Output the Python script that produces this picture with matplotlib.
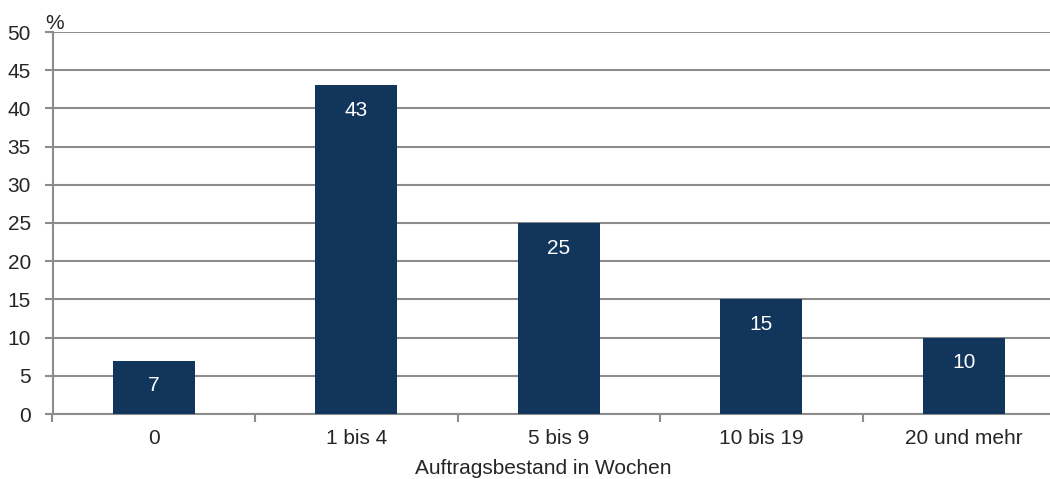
import matplotlib.pyplot as plt
import numpy as np

categories = ["0", "1 bis 4", "5 bis 9", "10 bis 19", "20 und mehr"]
values = [7, 43, 25, 15, 10]
yticks = [0, 5, 10, 15, 20, 25, 30, 35, 40, 45, 50]

bar_color = "#12365b"
grid_color = "#8c8c8c"
text_color = "#262626"
fs = 15

plt.rcParams['font.family'] = ['Liberation Sans', 'DejaVu Sans']

fig = plt.figure(figsize=(10.5, 4.79), dpi=100)
ax = fig.add_axes([52.5 / 1050, 1 - 414 / 479, 1 - 52.5 / 1050, (414 - 32) / 479])

x = np.arange(len(categories))
ax.bar(x, values, width=0.405, color=bar_color, zorder=3)
for xi, v in zip(x, values):
    ax.annotate(str(v), (xi, v), xytext=(0, -25), textcoords="offset pixels",
                ha="center", va="center", color="white", fontsize=fs, zorder=4)

ax.set_xlim(-0.5, -0.5 + 997.5 / 202.5)
ax.set_ylim(0, 50)
ax.set_yticks(yticks)
ax.yaxis.grid(True, color=grid_color, linewidth=1.5, zorder=0)

# category labels centred, tick marks on the boundaries
ax.set_xticks(x)
ax.set_xticklabels(categories)
ax.set_xticks(np.arange(len(categories)) - 0.5, minor=True)
ax.tick_params(axis="x", which="major", length=0, pad=11, labelsize=fs, labelcolor=text_color)
ax.tick_params(axis="x", which="minor", length=6, width=1.5, color=grid_color, direction="out")
ax.tick_params(axis="y", length=6, width=1.5, color=grid_color, pad=9.5, labelsize=fs, labelcolor=text_color)

for side in ["top", "right"]:
    ax.spines[side].set_visible(False)
for side in ["left", "bottom"]:
    ax.spines[side].set_color(grid_color)
    ax.spines[side].set_linewidth(1.5)

fig.text(45 / 1050, 1 - 29 / 479, "%", fontsize=fs, color=text_color, va="baseline", ha="left")
fig.text(543 / 1050, 1 - 473.5 / 479, "Auftragsbestand in Wochen", fontsize=fs,
         color=text_color, ha="center", va="baseline")

fig.savefig("out.png", dpi=100)
